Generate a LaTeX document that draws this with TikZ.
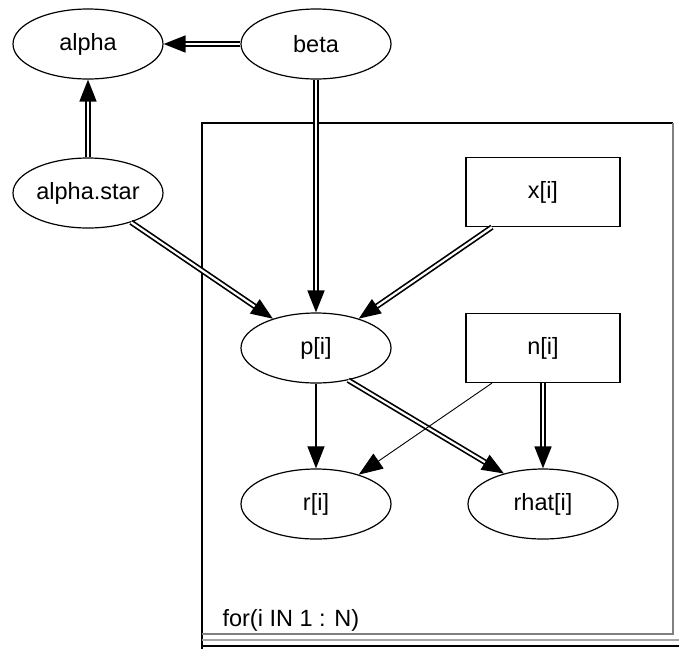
\documentclass[tikz,border=0pt]{standalone}
\usepackage{fontspec}
\setmainfont{Liberation Sans}
\usetikzlibrary{shapes.geometric,arrows.meta}
\tikzset{
  ell/.style={ellipse,draw,line width=1.2pt,minimum width=150pt,minimum height=70pt,inner sep=0pt,font=\fontsize{23.5}{28}\selectfont},
  box/.style={rectangle,draw,line width=1.2pt,minimum width=154pt,minimum height=69pt,inner sep=0pt,font=\fontsize{23.5}{28}\selectfont},
  dbl/.style={double,double distance=2.2pt,line width=1.7pt,-{Triangle[length=22pt,width=17pt]}},
  sgl/.style={line width=1.1pt,-{Triangle[length=22pt,width=17pt]}},
  thin arrow/.style={line width=0.9pt,-{Triangle[length=24pt,width=18pt]}},
}
\begin{document}
\begin{tikzpicture}[x=1pt,y=-1pt]
\useasboundingbox (0,0) rectangle (679,649);
% plate
\draw[line width=1.3pt] (202,649) -- (202,123) -- (673,123);
\draw[line width=1.3pt,gray] (673,123) -- (673,634) -- (202,634);
\draw[line width=1.2pt,gray!70] (202,640) -- (679,640);
\draw[line width=1.2pt] (202,646) -- (679,646);
\node[anchor=base west,font=\fontsize{23.5}{28}\selectfont] (lbl) at (219,626) {for(i IN 1 : N)};
% nodes
\node[ell] (alpha) at (88,44) {alpha};
\node[ell] (beta) at (316,44) {beta};
\node[ell] (astar) at (88,193) {alpha.star};
\node[box] (x) at (543,192) {x[i]};
\node[ell] (p) at (316,348) {p[i]};
\node[box] (n) at (543,348) {n[i]};
\node[ell] (r) at (316,504) {r[i]};
\node[ell] (rhat) at (543,504) {rhat[i]};
% edges
\draw[dbl] (beta) -- (alpha);
\draw[dbl] (astar) -- (alpha);
\draw[dbl] (beta) -- (p);
\draw[dbl] (astar) -- (p);
\draw[dbl] (x) -- (p);
\draw[sgl] (p) -- (r);
\draw[dbl] (p.-45) -- (rhat.142);
\draw[thin arrow] (n) -- (r);
\draw[dbl] (n) -- (rhat);
\end{tikzpicture}
\end{document}
